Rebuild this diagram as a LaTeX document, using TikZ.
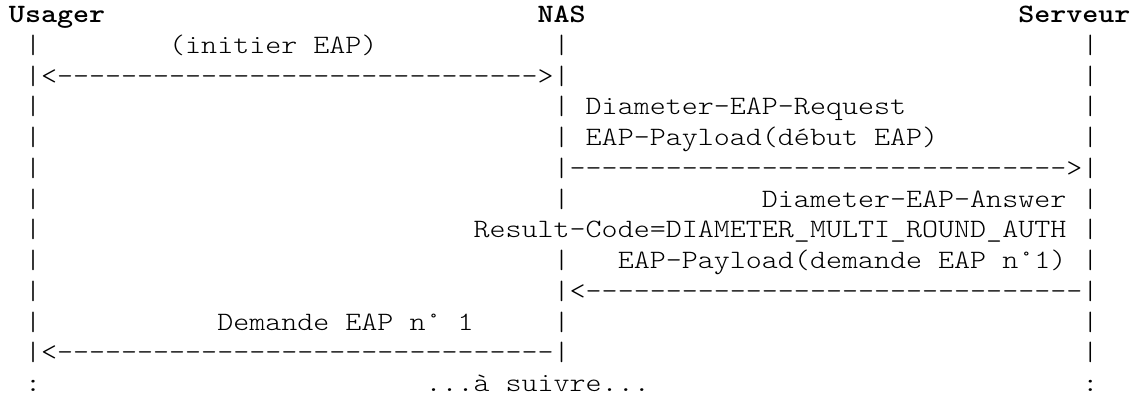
\documentclass[tikz,border=0pt]{standalone}
\usepackage{fontspec}
\newfontfamily\asciimono{lmmonolt10-regular.otf}[BoldFont=lmmonolt10-bold.otf]
\frenchspacing
\newcommand\cw[1]{\scalebox{1.1515}[1]{#1}}
\newcommand\atxt[4]{\node[txt] (#1) at ({9+#2*16.02},{-22.5-(#3-1)*30.75}) {\cw{#4}};}
\begin{document}
\begin{tikzpicture}[x=1pt,y=1pt,
  txt/.style={anchor=base west,inner sep=0pt,outer sep=0pt,text depth=0pt,
    font=\asciimono\fontsize{26.5}{30}\selectfont},
  hdr/.style={txt,font=\asciimono\bfseries\fontsize{26.5}{30}\selectfont}]
\fill[white] (0,0) rectangle (1133,-394);
\useasboundingbox (0,0) rectangle (1133,-394);
% row 1: headers
\node[hdr] (usager) at ({9+0*16.02},-22.5) {\cw{Usager}};
\node[hdr] (nas) at ({9+33*16.02},-22.5) {\cw{NAS}};
\node[hdr] (serveur) at ({9+63*16.02},-22.5) {\cw{Serveur}};
% row 2
\atxt{r2a}{1}{2}{|}
\atxt{r2b}{10}{2}{(initier\ EAP)}
\atxt{r2c}{34}{2}{|}
\atxt{r2d}{67}{2}{|}
% row 3
\atxt{r3a}{1}{3}{|<------------------------------>|}
\atxt{r3b}{67}{3}{|}
% row 4
\atxt{r4a}{1}{4}{|}
\atxt{r4b}{34}{4}{|\ Diameter-EAP-Request}
\atxt{r4c}{67}{4}{|}
% row 5
\atxt{r5a}{1}{5}{|}
\atxt{r5b}{34}{5}{|\ EAP-Payload(début\ EAP)}
\atxt{r5c}{67}{5}{|}
% row 6
\atxt{r6a}{1}{6}{|}
\atxt{r6b}{34}{6}{|------------------------------->|}
% row 7
\atxt{r7a}{1}{7}{|}
\atxt{r7b}{34}{7}{|}
\atxt{r7c}{47}{7}{Diameter-EAP-Answer}
\atxt{r7d}{67}{7}{|}
% row 8
\atxt{r8a}{1}{8}{|}
\atxt{r8b}{29}{8}{Result-Code=DIAMETER\_MULTI\_ROUND\_AUTH}
\atxt{r8c}{67}{8}{|}
% row 9
\atxt{r9a}{1}{9}{|}
\atxt{r9b}{34}{9}{|}
\atxt{r9c}{38}{9}{EAP-Payload(demande\ EAP\ n°1)}
\atxt{r9d}{67}{9}{|}
% row 10
\atxt{r10a}{1}{10}{|}
\atxt{r10b}{34}{10}{|<-------------------------------|}
% row 11
\atxt{r11a}{1}{11}{|}
\atxt{r11b}{13}{11}{Demande\ EAP\ n°\ 1}
\atxt{r11c}{34}{11}{|}
\atxt{r11d}{67}{11}{|}
% row 12
\atxt{r12a}{1}{12}{|<-------------------------------|}
\atxt{r12b}{67}{12}{|}
% row 13
\atxt{r13a}{1}{13}{:}
\atxt{r13b}{26}{13}{...à\ suivre...}
\atxt{r13c}{67}{13}{:}
\end{tikzpicture}
\end{document}
